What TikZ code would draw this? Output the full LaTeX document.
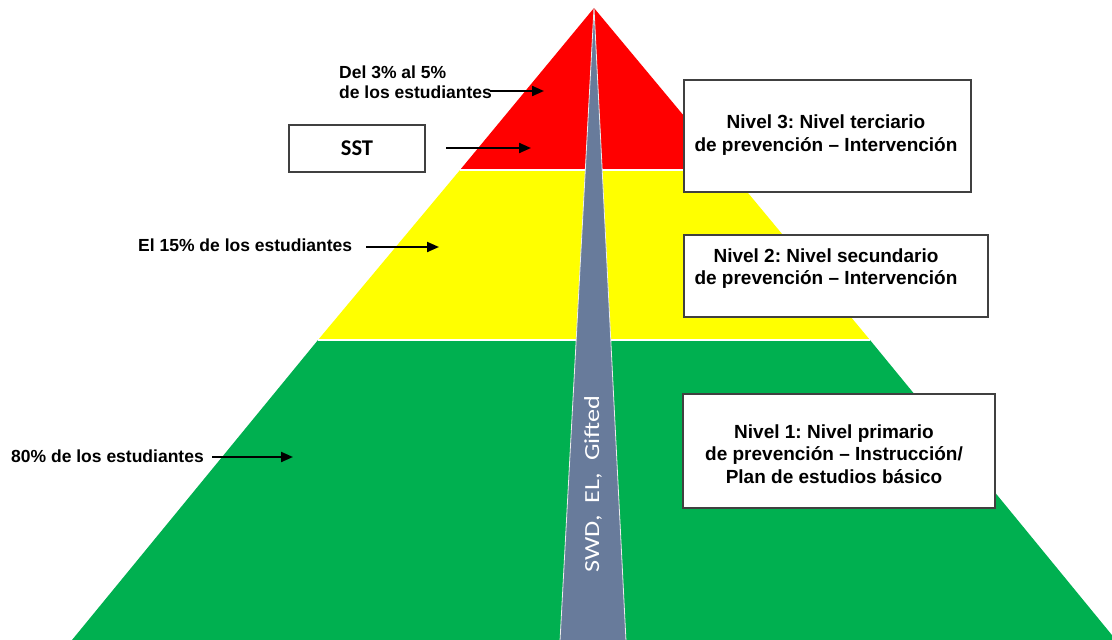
\documentclass[tikz,border=0pt]{standalone}
\usepackage{fontspec}
\setmainfont{Liberation Sans}
\newfontfamily\calib{Carlito}
\usetikzlibrary{arrows.meta}
\definecolor{tred}{RGB}{255,0,0}
\definecolor{tyellow}{RGB}{255,255,0}
\definecolor{tgreen}{RGB}{0,176,80}
\definecolor{wedgegray}{RGB}{104,123,155}
\definecolor{boxline}{RGB}{64,64,64}
\frenchspacing
\begin{document}
\begin{tikzpicture}[x=1pt,y=-1pt,
  levelbox/.style={draw=boxline,fill=white,line width=1.8pt,inner sep=0pt},
  boxtext/.style={font=\fontsize{19}{22.5}\selectfont\bfseries,align=center,inner sep=0pt},
  sidetext/.style={font=\fontsize{17.5}{20.5}\selectfont\bfseries,align=left,inner sep=0pt,anchor=west},
  pointer/.style={-{Triangle[length=12pt,width=10pt]},line width=2.1pt}]
\useasboundingbox (0,0) rectangle (1112,640);
\clip (0,0) rectangle (1112,640);
% pyramid tiers
\coordinate (apex) at (594,8);
\coordinate (rl) at (460,170);
\coordinate (rr) at (729,170);
\coordinate (yl) at (318,340);
\coordinate (yr) at (870,340);
\coordinate (gl) at (72,640);
\coordinate (gr) at (1116,640);
\fill[tgreen] (yl) -- (yr) -- (gr) -- (gl) -- cycle;
\fill[tyellow] (rl) -- (rr) -- (yr) -- (yl) -- cycle;
\fill[tred] (apex) -- (rr) -- (rl) -- cycle;
\draw[white,line width=1.5pt] (rl) -- (rr);
\draw[white,line width=1.5pt] (yl) -- (yr);
% wedge
\coordinate (wl) at (560,641);
\coordinate (wr) at (626,641);
\draw[fill=wedgegray,draw=white!85!gray,line width=0.8pt,line join=miter] (apex) -- (wr) -- (wl) -- cycle;
\node[rotate=90,text=white,inner sep=0pt] (wedgelabel) at (593,484)
  {\scalebox{1.22}[1]{\calib\fontsize{21.5}{24}\selectfont SWD,\ \ EL,\ \ Gifted}};
% boxes
\node[levelbox,minimum width=287pt,minimum height=112pt] (b3) at (827.5,136) {};
\node[boxtext] (t3) at (826,135) {Nivel 3: Nivel terciario\\de prevención -- Intervención};
\node[levelbox,minimum width=304pt,minimum height=82pt] (b2) at (836,276) {};
\node[boxtext] (t2) at (826,268.5) {Nivel 2: Nivel secundario\\de prevención -- Intervención};
\node[levelbox,minimum width=312pt,minimum height=114pt] (b1) at (839,451) {};
\node[boxtext] (t1) at (834,454) {Nivel 1: Nivel primario\\de prevención -- Instrucción/\\Plan de estudios básico};
\node[levelbox,minimum width=136pt,minimum height=47pt] (sst) at (357,148.5)
  {\calib\bfseries\fontsize{22.5}{26}\selectfont SST};
% side labels
\node[sidetext] (l3) at (339,82) {Del 3\% al 5\%\\de los estudiantes};
\node[sidetext] (l2) at (138,245) {El 15\% de los estudiantes};
\node[sidetext] (l1) at (11,456) {80\% de los estudiantes};
% arrows
\coordinate (a3s) at (490,91);
\coordinate (a3e) at (544,91);
\coordinate (ass) at (446,148);
\coordinate (ase) at (531,148);
\coordinate (a2s) at (366,247);
\coordinate (a2e) at (439,247);
\coordinate (a1s) at (212,457);
\coordinate (a1e) at (293,457);
\draw[pointer] (a3s) -- (a3e);
\draw[pointer] (ass) -- (ase);
\draw[pointer] (a2s) -- (a2e);
\draw[pointer] (a1s) -- (a1e);
\end{tikzpicture}
\end{document}
